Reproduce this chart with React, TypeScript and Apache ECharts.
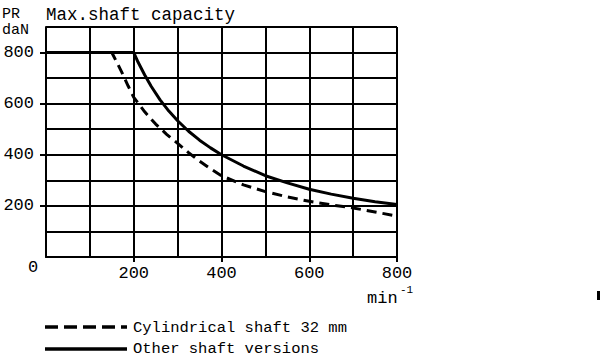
import React, { useEffect, useRef } from "react";
import * as echarts from "echarts";

const solidX = [0, 200, 210, 225, 240, 260, 280, 300, 325, 350, 375, 400, 450, 500, 550, 600, 650, 700, 750, 800];
const solidY = [800, 800, 762, 712, 667, 615, 571, 533, 492, 457, 427, 400, 356, 318, 290, 265, 246, 230, 216, 205];
const dashX = [0, 150, 162, 175, 187, 200, 225, 250, 275, 300, 325, 350, 375, 400, 450, 500, 550, 600, 650, 700, 750, 800];
const dashY = [800, 800, 760, 715, 670, 625, 568, 520, 480, 445, 408, 375, 345, 318, 282, 256, 235, 218, 204, 192, 176, 160];
const tickLabels = [200, 400, 600, 800];
const seriesNames = ["Cylindrical shaft 32 mm", "Other shaft versions"];

const FONT = "'Liberation Mono', 'DejaVu Sans Mono', monospace";

export default function App() {
  const ref = useRef<HTMLDivElement>(null);
  useEffect(() => {
    if (!ref.current) return;
    const chart = echarts.init(ref.current, undefined, { renderer: "svg" });
    const ls = { color: "#000", width: 2 };
    const labelStyle = { color: "#000", fontFamily: FONT, fontSize: 17 };
    chart.setOption({
      animation: false,
      backgroundColor: "#fff",
      grid: { left: 46, top: 27, right: 203, bottom: 102, containLabel: false },
      xAxis: [
        {
          type: "value",
          position: "bottom",
          min: 0,
          max: 800,
          interval: 100,
          axisLine: { show: true, lineStyle: ls },
          axisTick: { show: false },
          axisLabel: { show: false },
          splitLine: { show: true, lineStyle: ls },
        },
        {
          type: "value",
          position: "bottom",
          offset: 0,
          min: 0,
          max: 800,
          interval: 200,
          axisLine: { show: false },
          axisTick: { show: true, customValues: tickLabels, length: 5, lineStyle: ls },
          axisLabel: { ...labelStyle, customValues: tickLabels, margin: 8 },
          splitLine: { show: false },
        },
      ],
      yAxis: [
        {
          type: "value",
          position: "left",
          min: 0,
          max: 900,
          interval: 100,
          axisLine: { show: true, lineStyle: ls },
          axisTick: { show: false },
          axisLabel: { show: false },
          splitLine: { show: true, lineStyle: ls },
        },
        {
          type: "value",
          position: "left",
          offset: 0,
          min: 0,
          max: 900,
          interval: 100,
          axisLine: { show: false },
          axisTick: { show: true, customValues: tickLabels, length: 6, lineStyle: ls },
          axisLabel: { ...labelStyle, customValues: tickLabels, margin: 12 },
          splitLine: { show: false },
        },
      ],
      series: [
        {
          name: seriesNames[0],
          type: "line",
          data: dashX.map((x, i) => [x, dashY[i]]),
          symbol: "none",
          smooth: false,
          lineStyle: { color: "#000", width: 3, type: [10, 6], join: "round" },
          z: 5,
        },
        {
          name: seriesNames[1],
          type: "line",
          data: solidX.map((x, i) => [x, solidY[i]]),
          symbol: "none",
          smooth: false,
          lineStyle: { color: "#000", width: 3, join: "round" },
          z: 5,
        },
      ],
      graphic: [
        { type: "text", x: 2, y: 14, style: { text: "PR", fill: "#000", font: `15px ${FONT}`, verticalAlign: "middle" } },
        { type: "text", x: 2, y: 30, style: { text: "daN", fill: "#000", font: `15px ${FONT}`, verticalAlign: "middle" } },
        { type: "text", x: 46, y: 15, style: { text: "Max.shaft capacity", fill: "#000", font: `17.5px ${FONT}`, verticalAlign: "middle" } },
        { type: "text", x: 28, y: 267, style: { text: "0", fill: "#000", font: `17px ${FONT}`, verticalAlign: "middle" } },
        { type: "text", x: 367, y: 298, style: { text: "min", fill: "#000", font: `17px ${FONT}`, verticalAlign: "middle" } },
        { type: "text", x: 400, y: 290, style: { text: "-1", fill: "#000", font: `11px ${FONT}`, verticalAlign: "middle" } },
        { type: "rect", shape: { x: 597, y: 291, width: 3, height: 9 }, style: { fill: "#000" } },
        { type: "line", shape: { x1: 45, y1: 327, x2: 127, y2: 327 }, style: { stroke: "#000", lineWidth: 3.5, lineDash: [13, 6] } },
        { type: "line", shape: { x1: 45, y1: 349, x2: 127, y2: 349 }, style: { stroke: "#000", lineWidth: 3.5 } },
        { type: "text", x: 133, y: 328, style: { text: seriesNames[0], fill: "#000", font: `15.5px ${FONT}`, verticalAlign: "middle" } },
        { type: "text", x: 133, y: 349, style: { text: seriesNames[1], fill: "#000", font: `15.5px ${FONT}`, verticalAlign: "middle" } },
      ],
    });
    return () => chart.dispose();
  }, []);
  return (
    <div
      ref={ref}
      style={{ position: "fixed", left: 0, top: 0, width: 600, height: 359 }}
    />
  );
}
